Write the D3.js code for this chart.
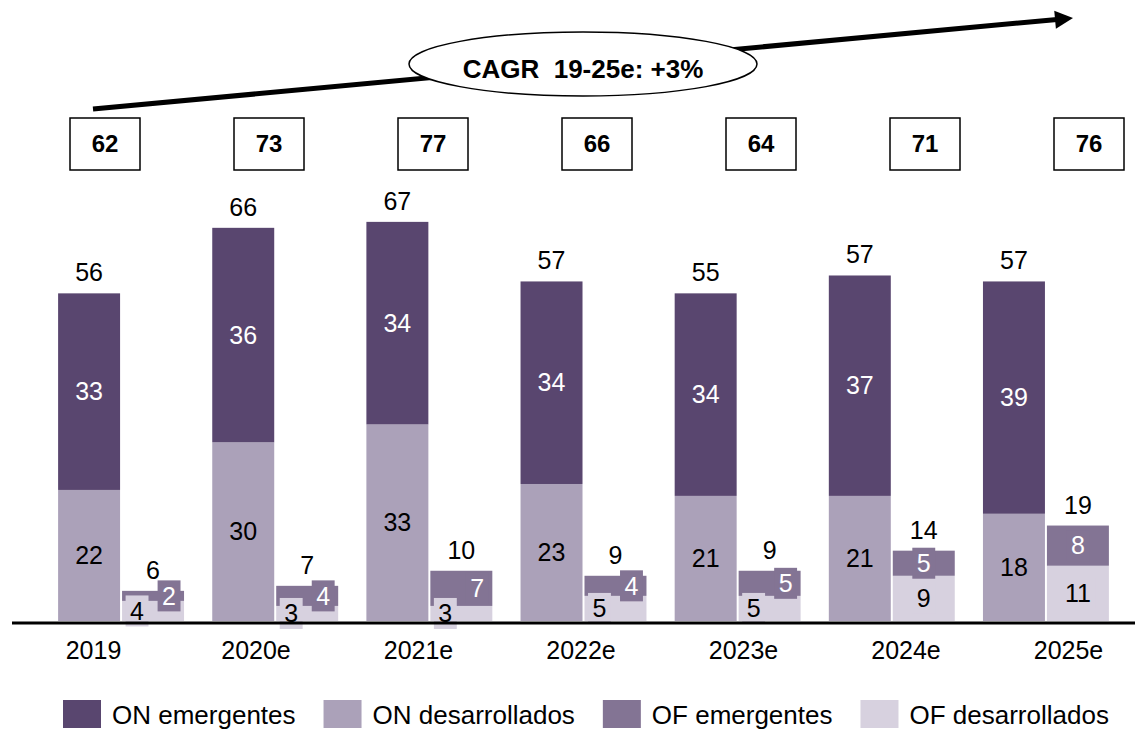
<!DOCTYPE html>
<html>
<head>
<meta charset="utf-8">
<script src="https://cdn.jsdelivr.net/npm/d3@7"></script>
<style>
  body { margin: 0; background: #fff; }
  svg { display: block; font-family: Arial, 'Liberation Sans', sans-serif; }
</style>
</head>
<body>
<script>
/* global d3 */
(function () {
  'use strict'

  // Data
  var years = ['2019', '2020e', '2021e', '2022e', '2023e', '2024e', '2025e']
  var onEmergentes = [33, 36, 34, 34, 34, 37, 39]
  var onDesarrollados = [22, 30, 33, 23, 21, 21, 18]
  var onTotals = [56, 66, 67, 57, 55, 57, 57]
  var ofEmergentes = [2, 4, 7, 4, 5, 5, 8]
  var ofDesarrollados = [4, 3, 3, 5, 5, 9, 11]
  var ofTotals = [6, 7, 10, 9, 9, 14, 19]
  var grandTotals = [62, 73, 77, 66, 64, 71, 76]
  var seriesNames = ['ON emergentes', 'ON desarrollados', 'OF emergentes', 'OF desarrollados']
  var cagrLabel = 'CAGR  19-25e: +3%'

  var colors = ['#59466f', '#aba1b9', '#837494', '#d7d1df']
  var dim = { w: 1135, h: 731 }
  var base = 621

  var svg = d3.select('body').append('svg')
    .attr('width', dim.w)
    .attr('height', dim.h)

  // Scales
  var x0 = d3.scaleBand().domain(years).range([44, 1123])
    .paddingInner(0.183).paddingOuter(0.0915)
  var x1 = d3.scaleBand().domain(['ON', 'OF']).range([0, x0.bandwidth()])
    .paddingInner(0.031)
  var yOn = d3.scaleLinear().domain([0, 70]).range([base, 204])
  var yOf = d3.scaleLinear().domain([0, 83]).range([base, 204])
  var xYear = d3.scalePoint().domain(years).range([93, 1068])
  var xBox = d3.scalePoint().domain(years).range([105, 1089])

  var data = years.map(function (yr, i) {
    return {
      year: yr,
      on: [
        { v: onDesarrollados[i], y0: 0, y1: onDesarrollados[i], c: 1 },
        { v: onEmergentes[i], y0: onDesarrollados[i], y1: onDesarrollados[i] + onEmergentes[i], c: 0 }
      ],
      of: [
        { v: ofDesarrollados[i], y0: 0, y1: ofDesarrollados[i], c: 3 },
        { v: ofEmergentes[i], y0: ofDesarrollados[i], y1: ofDesarrollados[i] + ofEmergentes[i], c: 2 }
      ],
      onTotal: onTotals[i],
      ofTotal: ofTotals[i],
      total: grandTotals[i]
    }
  })

  var groups = svg.append('g').attr('class', 'chart')
    .selectAll('.year').data(data)
    .enter().append('g')
      .attr('class', 'year')
      .attr('transform', function (d) { return 'translate(' + x0(d.year) + ',0)' })

  // ON bars
  groups.selectAll('rect.on')
      .data(function (d) { return d.on })
    .enter().append('rect')
      .attr('class', 'on')
      .attr('x', x1('ON'))
      .attr('width', x1.bandwidth())
      .attr('y', function (d) { return yOn(d.y1) })
      .attr('height', function (d) { return yOn(d.y0) - yOn(d.y1) })
      .attr('fill', function (d) { return colors[d.c] })

  // OF bars
  groups.selectAll('rect.of')
      .data(function (d) { return d.of })
    .enter().append('rect')
      .attr('class', 'of')
      .attr('x', x1('OF'))
      .attr('width', x1.bandwidth())
      .attr('y', function (d) { return yOf(d.y1) })
      .attr('height', function (d) { return yOf(d.y0) - yOf(d.y1) })
      .attr('fill', function (d) { return colors[d.c] })

  // Axis baseline + year labels
  svg.append('line')
    .attr('x1', 12).attr('x2', dim.w)
    .attr('y1', base + 2).attr('y2', base + 2)
    .attr('stroke', '#000').attr('stroke-width', 3)

  var axis = svg.append('g')
    .attr('transform', 'translate(0,' + base + ')')
    .call(d3.axisBottom(xYear).tickSize(0).tickPadding(20))
  axis.select('.domain').remove()
  axis.selectAll('text')
    .attr('font-size', 25)
    .attr('font-family', "Arial, 'Liberation Sans', sans-serif")
    .attr('fill', '#000')

  // ON segment labels
  groups.selectAll('text.onlab')
      .data(function (d) { return d.on })
    .enter().append('text')
      .attr('class', 'onlab')
      .attr('x', x1('ON') + x1.bandwidth() / 2)
      .attr('y', function (d) { return yOn((d.y0 + d.y1) / 2) })
      .attr('dy', '0.35em')
      .attr('text-anchor', 'middle')
      .attr('font-size', 25)
      .attr('fill', function (d) { return d.c === 0 ? '#fff' : '#000' })
      .text(function (d) { return d.v })

  // ON totals
  groups.append('text')
    .attr('x', x1('ON') + x1.bandwidth() / 2)
    .attr('y', function (d) { return yOn(d.on[1].y1) - 12 })
    .attr('text-anchor', 'middle')
    .attr('font-size', 25)
    .text(function (d) { return d.onTotal })

  // OF segment labels, with filled label boxes (shifted aside when bar is short)
  groups.each(function (d) {
    var g = d3.select(this)
    var split = d.ofTotal < 12
    d.of.forEach(function (s) {
      var cx = x1('OF') + x1.bandwidth() / 2 + (split ? (s.c === 2 ? 16 : -16) : 0)
      var cy = yOf((s.y0 + s.y1) / 2)
      var lab = g.append('g')
      var t = lab.append('text')
        .attr('x', cx)
        .attr('y', cy)
        .attr('dy', '0.35em')
        .attr('text-anchor', 'middle')
        .attr('font-size', 25)
        .attr('fill', s.c === 2 ? '#fff' : '#000')
        .text(s.v)
      var w = t.node().getComputedTextLength() + 9
      lab.insert('rect', 'text')
        .attr('x', cx - w / 2)
        .attr('y', cy - 15.5)
        .attr('width', w)
        .attr('height', 31)
        .attr('fill', colors[s.c])
    })
  })

  // OF totals
  groups.append('text')
    .attr('x', x1('OF') + x1.bandwidth() / 2)
    .attr('y', function (d) { return yOf(d.of[1].y1) - 12 })
    .attr('text-anchor', 'middle')
    .attr('font-size', 25)
    .text(function (d) { return d.ofTotal })

  // Total boxes
  var boxes = svg.append('g').selectAll('g').data(data)
    .enter().append('g')
      .attr('transform', function (d) { return 'translate(' + xBox(d.year) + ',144)' })
  boxes.append('rect')
    .attr('x', -35).attr('y', -26)
    .attr('width', 70).attr('height', 52)
    .attr('fill', '#fff')
    .attr('stroke', '#000')
    .attr('stroke-width', 1.5)
  boxes.append('text')
    .attr('text-anchor', 'middle')
    .attr('dy', '0.35em')
    .attr('font-size', 24)
    .attr('font-weight', 'bold')
    .text(function (d) { return d.total })

  // CAGR arrow
  var ax0 = xBox(years[0]) - 12
  var ay0 = 109
  var ax1 = xBox(years[years.length - 1]) - 16
  var ay1 = 18
  var len = Math.sqrt((ax1 - ax0) * (ax1 - ax0) + (ay1 - ay0) * (ay1 - ay0))
  var ux = (ax1 - ax0) / len
  var uy = (ay1 - ay0) / len
  var headL = 18
  var headW = 9
  var bx = ax1 - ux * headL
  var by = ay1 - uy * headL
  svg.append('line')
    .attr('x1', ax0).attr('y1', ay0)
    .attr('x2', bx + ux * 2).attr('y2', by + uy * 2)
    .attr('stroke', '#000').attr('stroke-width', 5)
  svg.append('path')
    .attr('d', 'M' + ax1 + ',' + ay1 +
      'L' + (bx - uy * headW) + ',' + (by + ux * headW) +
      'L' + (bx + uy * headW) + ',' + (by - ux * headW) + 'Z')
    .attr('fill', '#000')

  var ex = ax0 + (ax1 - ax0) * 0.5
  svg.append('ellipse')
    .attr('cx', ex).attr('cy', 64)
    .attr('rx', 174).attr('ry', 32)
    .attr('fill', '#fff')
    .attr('stroke', '#000')
    .attr('stroke-width', 1.5)
  svg.append('text')
    .attr('x', ex).attr('y', 78)
    .attr('text-anchor', 'middle')
    .attr('font-size', 26)
    .attr('font-weight', 'bold')
    .style('white-space', 'pre')
    .text(cagrLabel)

  // Legend
  var legend = svg.append('g').attr('transform', 'translate(63,700)')
  var lx = 0
  seriesNames.forEach(function (name, i) {
    var item = legend.append('g').attr('transform', 'translate(' + lx + ',0)')
    item.append('rect')
      .attr('width', 38).attr('height', 28)
      .attr('fill', colors[i])
    var t = item.append('text')
      .attr('x', 49).attr('y', 24)
      .attr('font-size', 26)
      .text(name)
    lx += 49 + t.node().getComputedTextLength() + 28
  })
}())
</script>
</body>
</html>
